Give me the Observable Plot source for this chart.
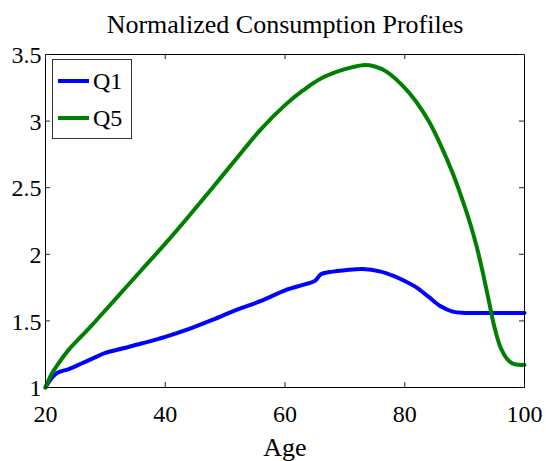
<!DOCTYPE html>
<html>
<head>
<meta charset="utf-8">
<script src="https://cdn.jsdelivr.net/npm/d3@7"></script>
<script src="https://cdn.jsdelivr.net/npm/@observablehq/plot@0.6"></script>
<style>
  html, body { margin: 0; padding: 0; background: white; }
  #wrap { position: relative; width: 546px; height: 461px; font-family: "Liberation Serif", serif; }
  #wrap svg, #wrap svg g, #wrap svg text { font-family: "Liberation Serif", serif !important; font-variant: normal !important; }
  #legend { position: absolute; left: 52px; top: 59px; width: 80px; height: 80px; border: 1px solid #333; background: white; box-sizing: border-box; }
  .row { position: absolute; left: 0; height: 30px; display: flex; align-items: center; font-size: 24px; color: black; font-family: "Liberation Serif", serif; }
  .sw { display: inline-block; width: 31px; height: 4px; margin-left: 5px; margin-right: 4px; }
</style>
</head>
<body>
<div id="wrap"></div>
<script>
const title = "Normalized Consumption Profiles";
const xLabel = "Age";
const seriesNames = ["Q1", "Q5"];
const seriesColors = ["#0000ff", "#008000"];

const xTicks = [20, 40, 60, 80, 100];
const xTickLabels = ["20", "40", "60", "80", "100"];
const yTicks = [1, 1.5, 2, 2.5, 3, 3.5];
const yTickLabels = ["1", "1.5", "2", "2.5", "3", "3.5"];

const q1Ages = [20, 21, 22, 24, 26, 28, 30, 33, 36, 40, 44, 48, 52, 56, 60, 63, 65, 66, 68, 70, 73, 76, 78, 80, 82, 84, 86, 88, 90, 95, 100];
const q1Vals = [1.00, 1.07, 1.11, 1.14, 1.18, 1.22, 1.26, 1.295, 1.33, 1.38, 1.44, 1.51, 1.585, 1.65, 1.73, 1.77, 1.80, 1.85, 1.87, 1.88, 1.89, 1.87, 1.84, 1.80, 1.75, 1.68, 1.61, 1.57, 1.56, 1.56, 1.56];

const q5Ages = [20, 21, 22, 24, 26, 28, 30, 33, 36, 40, 44, 48, 52, 56, 60, 63, 66, 70, 73, 75, 77, 80, 82, 84, 86, 88, 90, 91, 92, 93, 94, 95, 96, 97, 98, 99, 100];
const q5Vals = [1.00, 1.10, 1.17, 1.29, 1.385, 1.48, 1.58, 1.73, 1.88, 2.08, 2.29, 2.505, 2.725, 2.94, 3.12, 3.23, 3.32, 3.39, 3.42, 3.41, 3.37, 3.25, 3.14, 3.00, 2.82, 2.61, 2.36, 2.22, 2.06, 1.87, 1.66, 1.45, 1.30, 1.22, 1.18, 1.17, 1.17];

const d1 = q1Ages.map((a, i) => ({age: a, v: q1Vals[i]}));
const d5 = q5Ages.map((a, i) => ({age: a, v: q5Vals[i]}));

const W = 546, H = 461, mL = 45, mR = 22, mT = 54, mB = 74;
const fw = W - mL - mR, fh = H - mT - mB, tk = 5;
const serif = "Liberation Serif";

const chart = Plot.plot({
  width: W, height: H,
  marginLeft: mL, marginRight: mR, marginTop: mT, marginBottom: mB,
  style: {fontFamily: serif, fontSize: "24px", background: "white", color: "black", overflow: "visible"},
  x: {domain: [20, 100], axis: null},
  y: {domain: [1, 3.5], axis: null},
  marks: [
    Plot.line(d1, {x: "age", y: "v", stroke: seriesColors[0], strokeWidth: 4, curve: "catmull-rom"}),
    Plot.line(d5, {x: "age", y: "v", stroke: seriesColors[1], strokeWidth: 4, curve: "catmull-rom"}),
    Plot.frame({stroke: "black", strokeWidth: 1}),
    Plot.ruleX(xTicks, {x: d => d, insetTop: fh - tk, stroke: "#222"}),
    Plot.ruleX(xTicks, {x: d => d, insetBottom: fh - tk, stroke: "#222"}),
    Plot.ruleY(yTicks, {y: d => d, insetRight: fw - tk, stroke: "#222"}),
    Plot.ruleY(yTicks, {y: d => d, insetLeft: fw - tk, stroke: "#222"}),
    Plot.text(xTicks, {x: d => d, frameAnchor: "bottom", lineAnchor: "top", dy: 17, text: (d, i) => xTickLabels[i], fontSize: 24, fontFamily: serif, fill: "black"}),
    Plot.text(yTicks, {y: d => d, frameAnchor: "left", textAnchor: "end", dx: -4, dy: 1, text: (d, i) => yTickLabels[i], fontSize: 24, fontFamily: serif, fill: "black"}),
    Plot.text([title], {text: d => d, frameAnchor: "top", lineAnchor: "bottom", dy: -22, fontSize: 26, fontFamily: serif}),
    Plot.text([xLabel], {text: d => d, frameAnchor: "bottom", lineAnchor: "bottom", dy: 68, fontSize: 26, fontFamily: serif})
  ]
});

const wrap = document.getElementById("wrap");
wrap.appendChild(chart);

const legend = document.createElement("div");
legend.id = "legend";
seriesNames.forEach((name, i) => {
  const row = document.createElement("div");
  row.className = "row";
  row.style.top = (i === 0 ? 6 : 43) + "px";
  const sw = document.createElement("span");
  sw.className = "sw";
  sw.style.background = seriesColors[i];
  const t = document.createElement("span");
  t.textContent = name;
  row.appendChild(sw);
  row.appendChild(t);
  legend.appendChild(row);
});
wrap.appendChild(legend);
</script>
</body>
</html>
